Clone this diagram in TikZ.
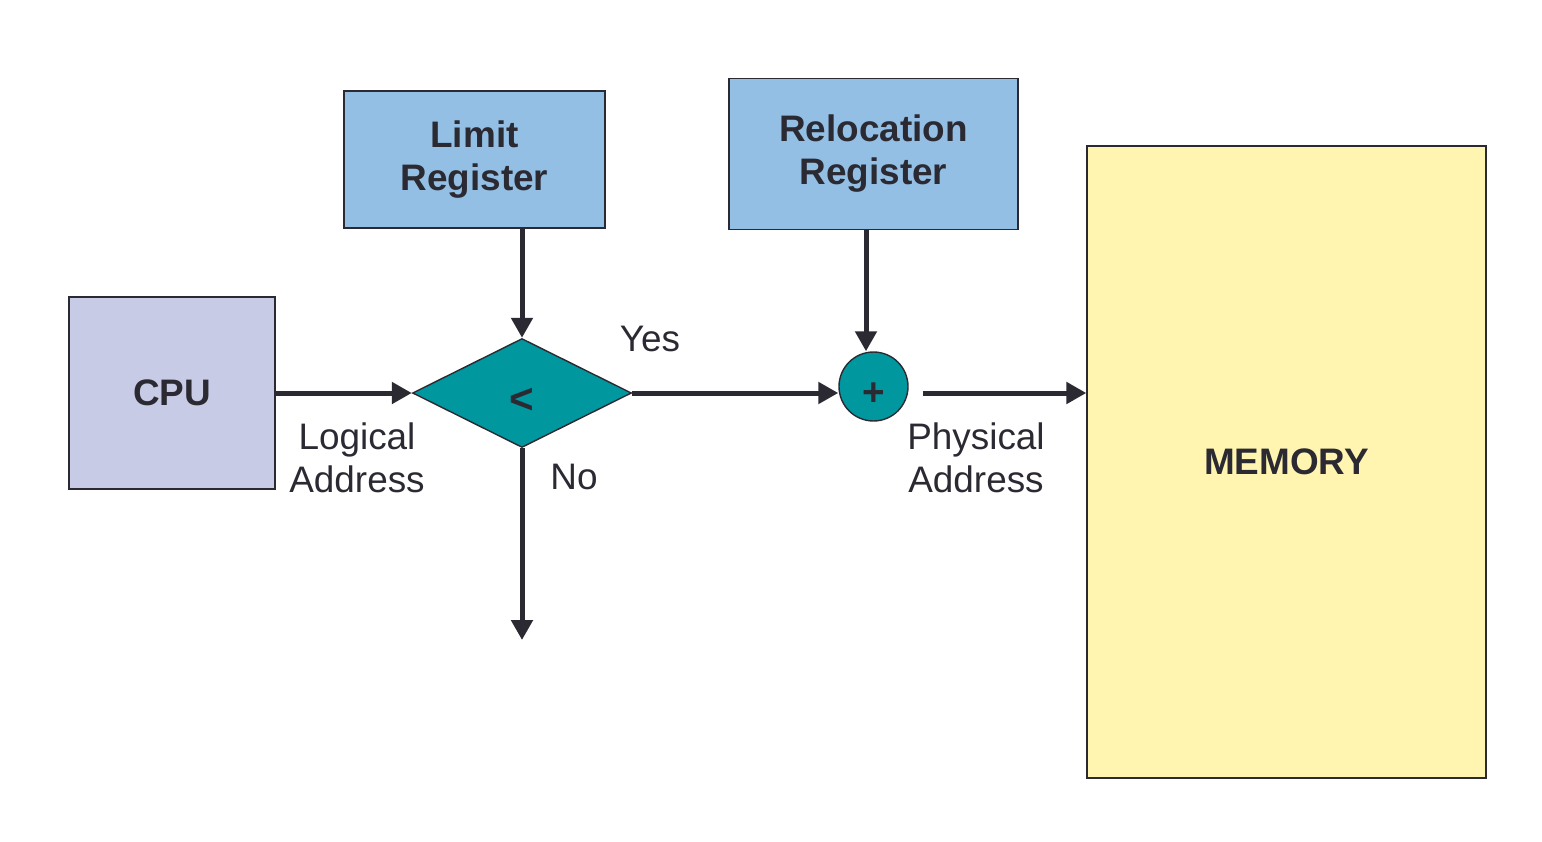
\documentclass[tikz,border=0pt]{standalone}
\usepackage{fontspec}
\setmainfont{Liberation Sans}
\usetikzlibrary{arrows.meta, shapes.geometric}

\definecolor{cpublue}{HTML}{C8CBE6}
\definecolor{regblue}{HTML}{92BFE3}
\definecolor{memyellow}{HTML}{FFF5B0}
\definecolor{teal}{HTML}{00979F}
\definecolor{ink}{HTML}{2B2A33}

\begin{document}
\begin{tikzpicture}[
        x = 0.02cm, y = -0.02cm, % pixel grid of the figure
        > = {Triangle[width=0.42cm, length=0.4cm]}, % arrow head style
        every node/.style = {font=\fontsize{21}{24.5}\selectfont, text=ink},
        wire/.style = {->, draw=ink, line width=0.1cm}
      ]

      \tikzstyle{block}=[rectangle, draw=ink, thick, font=\fontsize{21}{24.5}\selectfont\bfseries, align=center]
      \tikzstyle{label}=[align=center]

      \useasboundingbox (0,0) rectangle (1542,842);

      \node[block, fill=cpublue, minimum width=4.12cm, minimum height=3.84cm] (cpu) at (172,393) {CPU};
      \node[block, fill=regblue, minimum width=5.22cm, minimum height=2.74cm] (limit) at (474.5,159.5) {Limit\\Register};
      \node[block, fill=regblue, minimum width=5.78cm, minimum height=3.02cm] (reloc) at (873.5,154) {Relocation\\Register};
      \node[block, fill=memyellow, minimum width=7.98cm, minimum height=12.64cm] (mem) at (1286.5,462) {MEMORY};

      % glyphs sit a little below the shape centres
      \node[diamond, draw=ink, thick, fill=teal, inner sep=0pt, minimum width=4.38cm, minimum height=2.18cm,
            font=\fontsize{24}{24}\selectfont\bfseries] (cmp) at (522,393) {\raisebox{-0.4cm}[0pt][0pt]{<}};
      \node[circle, draw=ink, thick, fill=teal, inner sep=0pt, minimum size=1.38cm,
            font=\fontsize{22}{24}\selectfont\bfseries] (plus) at (873.5,386.5) {\raisebox{-0.38cm}[0pt][0pt]{+}};

      \coordinate (trap) at (522,640);

      \node[label] (logical) at (357,458) {Logical\\Address};
      \node[label] (physical) at (976,458) {Physical\\Address};
      \node (yes) at (650,339) {Yes};
      \node (no) at (574,477) {No};

      \draw[wire] (cpu.east) -- (cmp.west);
      \draw[wire] (limit.south -| cmp.north) -- (cmp.north);
      \draw[wire] (cmp.east) -- (cmp.east -| plus.west);
      \draw[wire] ([xshift=-0.15cm]reloc.south) -- ([xshift=-0.15cm]reloc.south |- plus.north);
      \draw[wire] ([xshift=0.28cm]plus.east |- cpu.east) -- (mem.west |- cpu.east);
      \draw[wire] (cmp.south) -- (trap);

    \end{tikzpicture}
\end{document}
